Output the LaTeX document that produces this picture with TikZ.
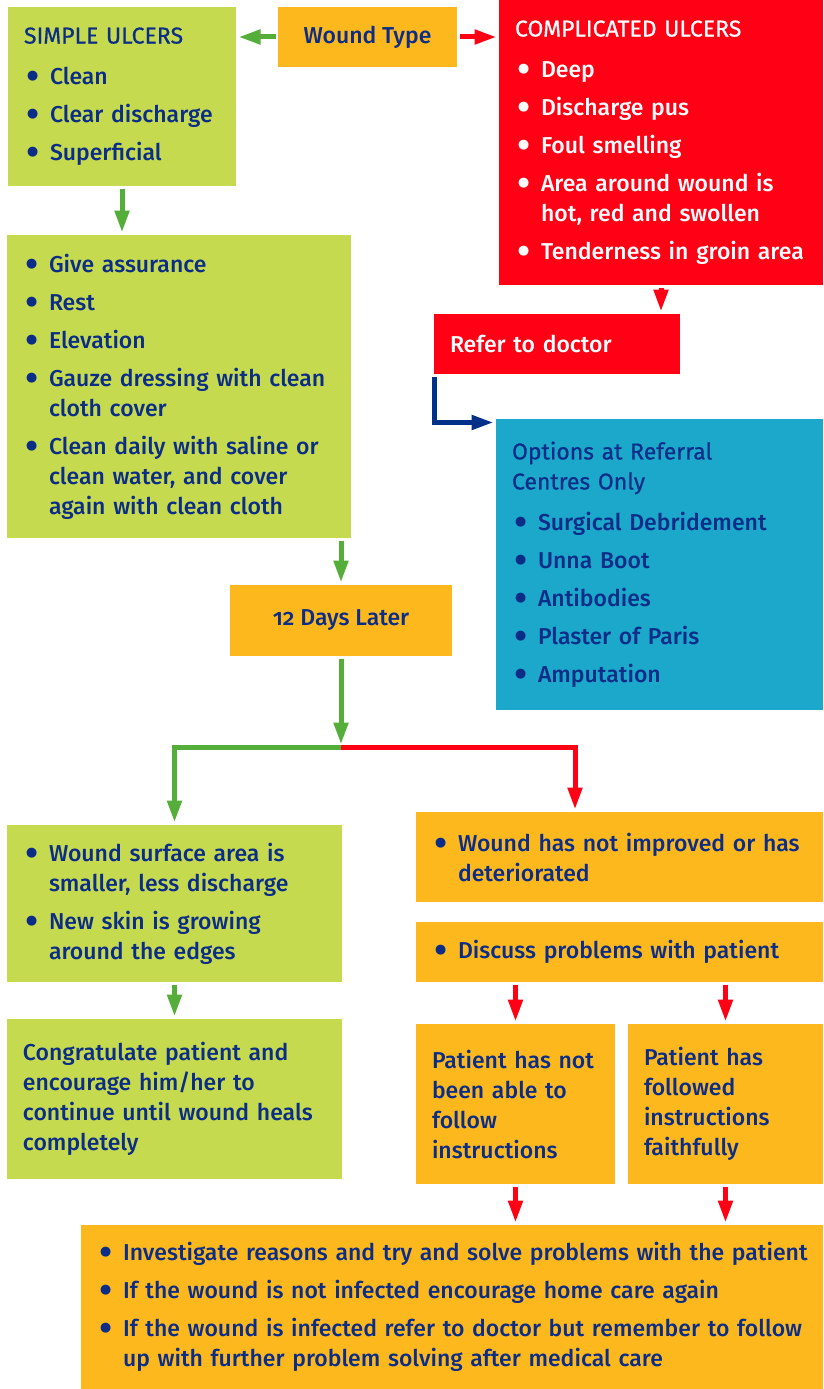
\documentclass[tikz,border=0pt]{standalone}
\usepackage{fontspec}
\IfFontExistsTF{Fira Sans Medium}
  {\setmainfont{Fira Sans Medium}}
  {\setmainfont{Fira Sans}}
\newfontfamily\headfont{Fira Sans}[FakeBold=0.6]
\usepackage{tikz}
\usetikzlibrary{arrows.meta}
\definecolor{navy}{RGB}{11,45,135}
\definecolor{leafgreen}{RGB}{197,218,78}
\definecolor{amber}{RGB}{253,184,30}
\definecolor{alarmred}{RGB}{255,0,20}
\definecolor{seablue}{RGB}{27,168,203}
\definecolor{linegreen}{RGB}{86,174,58}
\definecolor{lineblue}{RGB}{0,48,135}
\setlength{\parindent}{0pt}
% one bullet point, lines after the first hang under the text
\newcommand{\bpt}[1]{\hangindent=26pt\hangafter=1%
    \makebox[26pt][l]{\hspace{2pt}\raisebox{-5pt}{\scalebox{1.7}{•}}}#1\par}
% box heading, a little more room below it
\newcommand{\boxhead}[1]{{\headfont #1}\par\vspace{3pt}}

\begin{document}
\begin{tikzpicture}[
        x=1pt, y=-1pt,
        box/.style={inner xsep=16pt, inner ysep=0pt, text=navy, align=left,
            font=\fontsize{23pt}{30pt}\selectfont,
            execute at begin node={\setlength{\parskip}{8pt}\rightskip=-24pt plus 1fil}},
        greenbox/.style={box, fill=leafgreen},
        amberbox/.style={box, fill=amber},
        redbox/.style={box, fill=alarmred, text=white},
        bluebox/.style={box, fill=seablue},
        every path/.style={line width=5pt},
        flow/.style={-{Triangle[length=22pt,width=14pt]}},
        garrow/.style={flow, draw=linegreen},
        rarrow/.style={flow, draw=alarmred},
        barrow/.style={flow, draw=lineblue}
    ]
    \useasboundingbox (0,0) rectangle (824,1389);

    \node[amberbox, minimum width=179pt, minimum height=60pt] (wound) at (367.5,37) {Wound Type};

    \node[greenbox, minimum width=228pt, minimum height=179pt, text width=196pt] (simple) at (122,96.5) {%
        \boxhead{SIMPLE ULCERS}
        \bpt{Clean}
        \bpt{Clear discharge}
        \bpt{Superficial}};

    \node[redbox, minimum width=324pt, minimum height=285pt, text width=292pt] (compl) at (661,142.5) {%
        \boxhead{COMPLICATED ULCERS}
        \bpt{Deep}
        \bpt{Discharge pus}
        \bpt{Foul smelling}
        \bpt{Area around wound is\newline hot, red and swollen}
        \bpt{Tenderness in groin area}};

    \node[redbox, minimum width=246pt, minimum height=60pt, text width=214pt] (refer) at (557,344) {Refer to doctor};

    \node[bluebox, minimum width=327pt, minimum height=291pt, text width=295pt] (opts) at (659.5,564.5) {%
        \boxhead{Options at Referral\newline Centres Only}
        \bpt{Surgical Debridement}
        \bpt{Unna Boot}
        \bpt{Antibodies}
        \bpt{Plaster of Paris}
        \bpt{Amputation}};

    \node[greenbox, minimum width=344pt, minimum height=303pt, text width=312pt] (treat) at (179,386.5) {%
        \bpt{Give assurance}
        \bpt{Rest}
        \bpt{Elevation}
        \bpt{Gauze dressing with clean\newline cloth cover}
        \bpt{Clean daily with saline or\newline clean water, and cover\newline again with clean cloth}};

    \node[amberbox, minimum width=222pt, minimum height=71pt] (days) at (341,620.5) {\addfontfeatures{Numbers=OldStyle}12 Days Later};

    \coordinate (split) at (341,747);
    \coordinate (rsplit) at (575,747);

    \node[greenbox, minimum width=335pt, minimum height=157pt, text width=303pt] (improved) at (174.5,903.5) {%
        \bpt{Wound surface area is\newline smaller, less discharge}
        \bpt{New skin is growing\newline around the edges}};

    \node[greenbox, minimum width=335pt, minimum height=160pt, text width=303pt] (congr) at (174.5,1099) {%
        Congratulate patient and\newline encourage him/her to\newline
        continue until wound heals\newline completely};

    \node[amberbox, minimum width=407pt, minimum height=90pt, text width=375pt] (notimp) at (619.5,857) {%
        \bpt{Wound has not improved or has\newline deteriorated}};

    \node[amberbox, minimum width=407pt, minimum height=60pt, text width=375pt] (discuss) at (619.5,952) {%
        \bpt{Discuss problems with patient}};

    \node[amberbox, minimum width=199pt, minimum height=160pt, text width=167pt] (pnot) at (515.5,1104) {%
        Patient has not\newline been able to\newline follow\newline instructions};

    \node[amberbox, minimum width=195pt, minimum height=160pt, text width=163pt] (pfoll) at (725.5,1104) {%
        Patient has\newline followed\newline instructions\newline faithfully};

    \node[amberbox, minimum width=742pt, minimum height=164pt, text width=710pt] (bottom) at (452,1307) {%
        \bpt{Investigate reasons and try and solve problems with the patient}
        \bpt{If the wound is not infected encourage home care again}
        \bpt{If the wound is infected refer to doctor but remember to follow\newline up with further problem solving after medical care}};

    % connectors
    \draw[garrow] (wound.west) -- (wound.west -| simple.east);
    \draw[rarrow] (wound.east) -- (wound.east -| compl.west);
    \draw[garrow] (simple.south) -- (simple.south |- treat.north);
    \draw[rarrow] (compl.south) -- (compl.south |- refer.north);
    \draw[barrow] ([xshift=2.5pt]refer.south west) |- ([yshift=-6pt]opts.north west);
    \draw[garrow] (days.north |- treat.south) -- (days.north);

    \draw[garrow] (split) -| (improved.north);
    \draw[rarrow] (split) -- (rsplit) -- (rsplit |- notimp.north);
    \draw[garrow] (days.south) -- ([yshift=2.5pt]split);

    \draw[garrow] (improved.south) -- (improved.south |- congr.north);
    \draw[rarrow] (discuss.south -| pnot.north) -- (pnot.north);
    \draw[rarrow] (discuss.south -| pfoll.north) -- (pfoll.north);
    \draw[rarrow] (pnot.south) -- (pnot.south |- bottom.north);
    \draw[rarrow] (pfoll.south) -- (pfoll.south |- bottom.north);
\end{tikzpicture}
\end{document}
